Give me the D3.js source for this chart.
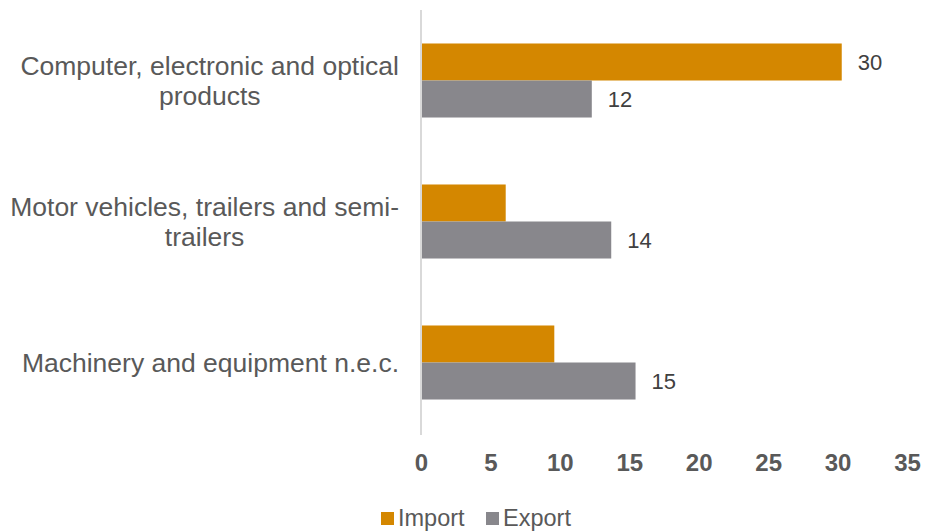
<!DOCTYPE html>
<html>
<head>
<meta charset="utf-8">
<script src="https://cdnjs.cloudflare.com/ajax/libs/d3/7.8.5/d3.min.js"></script>
<style>
  body { margin: 0; background: #fff; }
  text { font-family: "Liberation Sans", Arial, sans-serif; }
</style>
</head>
<body>
<div id="chart"></div>
<script>
const categories = [
  ["Computer, electronic and optical", "products"],
  ["Motor vehicles, trailers and semi-", "trailers"],
  ["Machinery and equipment n.e.c."]
]
const seriesNames = ["Import", "Export"]
const importValues = [30.3, 6.1, 9.6]
const exportValues = [12.3, 13.7, 15.45]
const exportLabels = ["12", "14", "15"]
const importLabels = ["30", "", ""]
const xTicks = [0, 5, 10, 15, 20, 25, 30, 35]

const colors = {"Import": "#D48700", "Export": "#88878C"}

const width = 926, height = 531
const margin = {top: 10, left: 421, right: 19, bottom: 98}

let svg = d3.select("#chart").append("svg")
    .attr("width", width)
    .attr("height", height)

let x = d3.scaleLinear()
    .domain([0, 35])
    .range([margin.left, width - margin.right])

let y = d3.scaleBand()
    .domain(d3.range(categories.length))
    .range([margin.top, height - margin.bottom])
    .paddingInner(0.475)
    .paddingOuter(0.2375)

let ySub = d3.scaleBand()
    .domain(seriesNames)
    .range([0, y.bandwidth()])

// bars
let rows = categories.map((c, i) => ({
  i: i,
  values: [
    {name: "Import", value: importValues[i], label: importLabels[i]},
    {name: "Export", value: exportValues[i], label: exportLabels[i]}
  ]
}))

let group = svg.append("g").selectAll("g")
    .data(rows)
    .enter().append("g")
    .attr("transform", d => `translate(0,${y(d.i)})`)

group.selectAll("rect")
    .data(d => d.values)
    .enter().append("rect")
    .attr("x", x(0) + 1)
    .attr("y", d => ySub(d.name))
    .attr("width", d => x(d.value) - x(0) - 1)
    .attr("height", ySub.bandwidth())
    .style("fill", d => colors[d.name])

group.selectAll("text.val")
    .data(d => d.values)
    .enter().append("text")
    .attr("class", "val")
    .attr("x", d => x(d.value) + 16)
    .attr("y", d => ySub(d.name) + ySub.bandwidth() / 2)
    .attr("dy", "0.35em")
    .style("font-size", "22px")
    .style("fill", "#404040")
    .text(d => d.label)

// vertical axis line
svg.append("line")
    .attr("x1", x(0)).attr("x2", x(0))
    .attr("y1", margin.top).attr("y2", height - margin.bottom + 2)
    .style("stroke", "#D9D9D9")
    .style("stroke-width", "2px")

// category labels
let labelRight = 399
categories.forEach((lines, i) => {
  let g = svg.append("g")
  let texts = g.selectAll("text")
      .data(lines)
      .enter().append("text")
      .style("font-size", "26.5px")
      .style("fill", "#595959")
      .style("text-anchor", "middle")
      .text(d => d)
  let maxW = d3.max(texts.nodes(), n => n.getComputedTextLength())
  let lh = 30
  let cy = y(i) + y.bandwidth() / 2
  let first = cy - (lines.length - 1) * lh / 2
  texts
      .attr("x", labelRight - maxW / 2)
      .attr("y", (d, j) => first + j * lh)
      .attr("dy", "0.35em")
})

// x axis tick labels
let xAxis = d3.axisBottom(x).tickValues(xTicks).tickSize(0).tickPadding(0)
let ax = svg.append("g")
    .attr("transform", `translate(0,${height - margin.bottom + 21})`)
    .call(xAxis)
ax.select(".domain").remove()
ax.selectAll("text")
    .style("font-family", "\"Liberation Sans\", Arial, sans-serif")
    .style("font-size", "24px")
    .style("font-weight", "bold")
    .style("fill", "#595959")

// legend
let legend = svg.append("g").attr("transform", "translate(381,518)")
let items = [{name: "Import", x: 0}, {name: "Export", x: 105}]
items.forEach(it => {
  legend.append("rect")
      .attr("x", it.x)
      .attr("y", -6)
      .attr("width", 13)
      .attr("height", 13)
      .style("fill", colors[it.name])
  legend.append("text")
      .attr("x", it.x + 17)
      .attr("y", 0)
      .attr("dy", "0.35em")
      .style("font-size", "23.5px")
      .style("fill", "#595959")
      .text(it.name)
})
</script>
</body>
</html>
